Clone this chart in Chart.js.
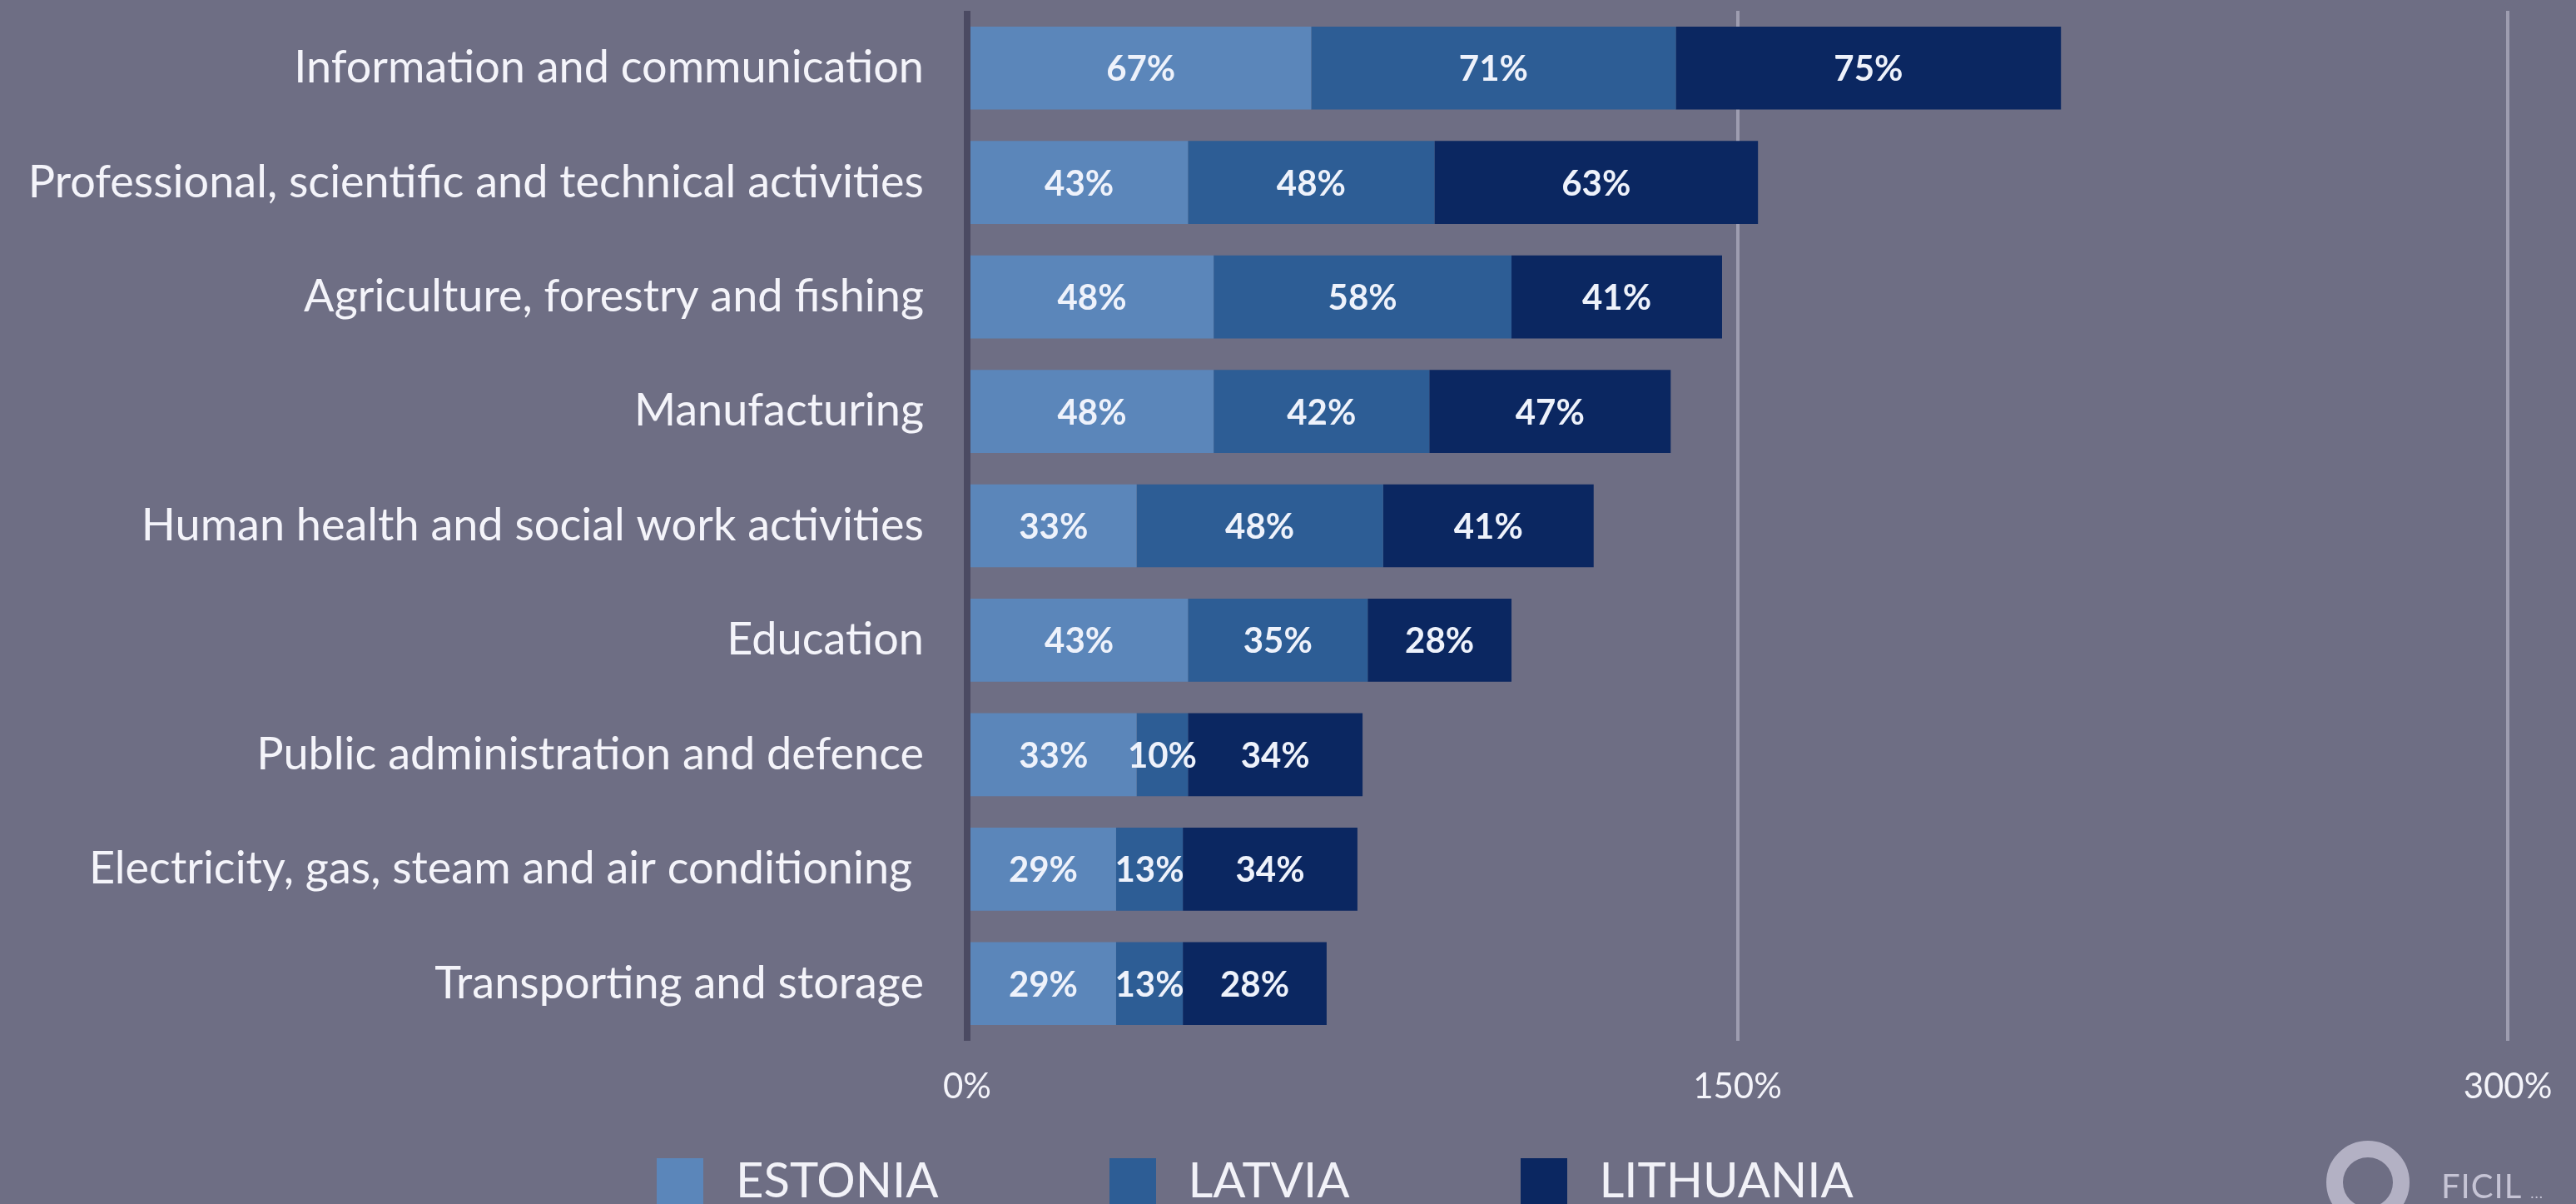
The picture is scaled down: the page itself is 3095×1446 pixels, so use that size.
<!DOCTYPE html>
<html>
<head>
<meta charset="utf-8">
<script src="https://cdn.jsdelivr.net/npm/chart.js@4.4.1/dist/chart.umd.min.js"></script>
<style>
  html, body { margin: 0; padding: 0; background: #6e6e84; overflow: hidden; }
  #wrap { position: relative; width: 3095px; height: 1446px; }
  #chart { position: absolute; left: 0; top: 0; }
  #legend {
    position: absolute; left: 789px; top: 1387px;
    display: flex; gap: 205px; font-family: Lato, sans-serif;
    font-size: 58px; line-height: 58px; color: #f2f2f8;
  }
  .legend-item { display: flex; align-items: flex-start; gap: 39px; }
  .legend-box { width: 56px; height: 56px; margin-top: 4px; }
  #logo-ring {
    position: absolute; left: 2795px; top: 1370px;
    width: 60px; height: 60px; border: 20px solid #b3b1c4; border-radius: 50%;
  }
  #logo-text {
    position: absolute; left: 2933px; top: 1404px;
    font-family: Lato, sans-serif; font-size: 40px; line-height: 40px;
    color: #c6c4d5; letter-spacing: 1px;
  }
</style>
</head>
<body>
<div id="wrap">
  <canvas id="chart" width="3095" height="1446"></canvas>
  <div id="legend"></div>
  <div id="logo-ring"></div>
  <div id="logo-text">FICIL <span style="font-size:18px">...</span></div>
</div>
<script>
// sectors (top to bottom) and share per country, %
const sectors = [
  "Information and communication",
  "Professional, scientific and technical activities",
  "Agriculture, forestry and fishing",
  "Manufacturing",
  "Human health and social work activities",
  "Education",
  "Public administration and defence",
  "Electricity, gas, steam and air conditioning ",
  "Transporting and storage",
];
const countries = ["ESTONIA", "LATVIA", "LITHUANIA"];
const estonia = [67, 43, 48, 48, 33, 43, 33, 29, 29];
const latvia = [71, 48, 58, 42, 48, 35, 10, 13, 13];
const lithuania = [75, 63, 41, 47, 41, 28, 34, 34, 28];
const xTicks = [0, 150, 300];

const COLORS = ["#5b86ba", "#2d5d95", "#0b2761"];
const FONT = "Lato";

// value labels centred inside each segment
const barLabels = {
  id: "barLabels",
  afterDatasetsDraw(chart) {
    const ctx = chart.ctx;
    ctx.save();
    ctx.font = `bold 42px ${FONT}`;
    ctx.fillStyle = "#eef2fb";
    ctx.textAlign = "center";
    ctx.textBaseline = "middle";
    chart.data.datasets.forEach((ds, i) => {
      chart.getDatasetMeta(i).data.forEach((bar, j) => {
        const p = bar.getProps(["x", "y", "base"], true);
        ctx.fillText(ds.data[j] + "%", (p.x + p.base) / 2, p.y + 2);
      });
    });
    ctx.restore();
  },
};

const seriesData = [estonia, latvia, lithuania];

const chart = new Chart(document.getElementById("chart"), {
  type: "bar",
  data: {
    labels: sectors,
    datasets: countries.map((name, i) => ({
      label: name,
      data: seriesData[i],
      backgroundColor: COLORS[i],
      borderWidth: 0,
      barPercentage: 0.725,
      categoryPercentage: 1,
    })),
  },
  options: {
    indexAxis: "y",
    responsive: false,
    animation: false,
    devicePixelRatio: 1,
    layout: { padding: { top: 13, right: 82, left: 0, bottom: 0 } },
    plugins: { legend: { display: false }, tooltip: { enabled: false } },
    scales: {
      x: {
        stacked: true,
        min: 0,
        max: 300,
        afterBuildTicks(scale) {
          scale.ticks = xTicks.map((v) => ({ value: v }));
        },
        afterFit(scale) {
          scale.height = 196;
          scale.paddingLeft = 0;
          scale.paddingRight = 0;
        },
        border: { display: false },
        grid: {
          drawTicks: false,
          color: (c) => (c.tick && c.tick.value === 0 ? "#4b4a62" : "#9e9db0"),
          lineWidth: (c) => (c.tick && c.tick.value === 0 ? 8 : 4),
        },
        ticks: {
          color: "#f4f4fa",
          font: { family: FONT, size: 42 },
          padding: 30,
          callback: (v) => v + "%",
        },
      },
      y: {
        stacked: true,
        afterFit(scale) {
          scale.width = 1162;
          scale.paddingTop = 0;
          scale.paddingBottom = 0;
        },
        border: { display: false },
        grid: { display: false, drawTicks: false },
        ticks: {
          color: "#f4f4fa",
          font: { family: FONT, size: 54 },
          padding: 52,
          autoSkip: false,
        },
      },
    },
  },
  plugins: [barLabels],
});

// legend
const legend = document.getElementById("legend");
countries.forEach((name, i) => {
  const item = document.createElement("div");
  item.className = "legend-item";
  item.innerHTML = `<div class="legend-box" style="background:${COLORS[i]}"></div><div>${name}</div>`;
  legend.appendChild(item);
});
</script>
</body>
</html>
